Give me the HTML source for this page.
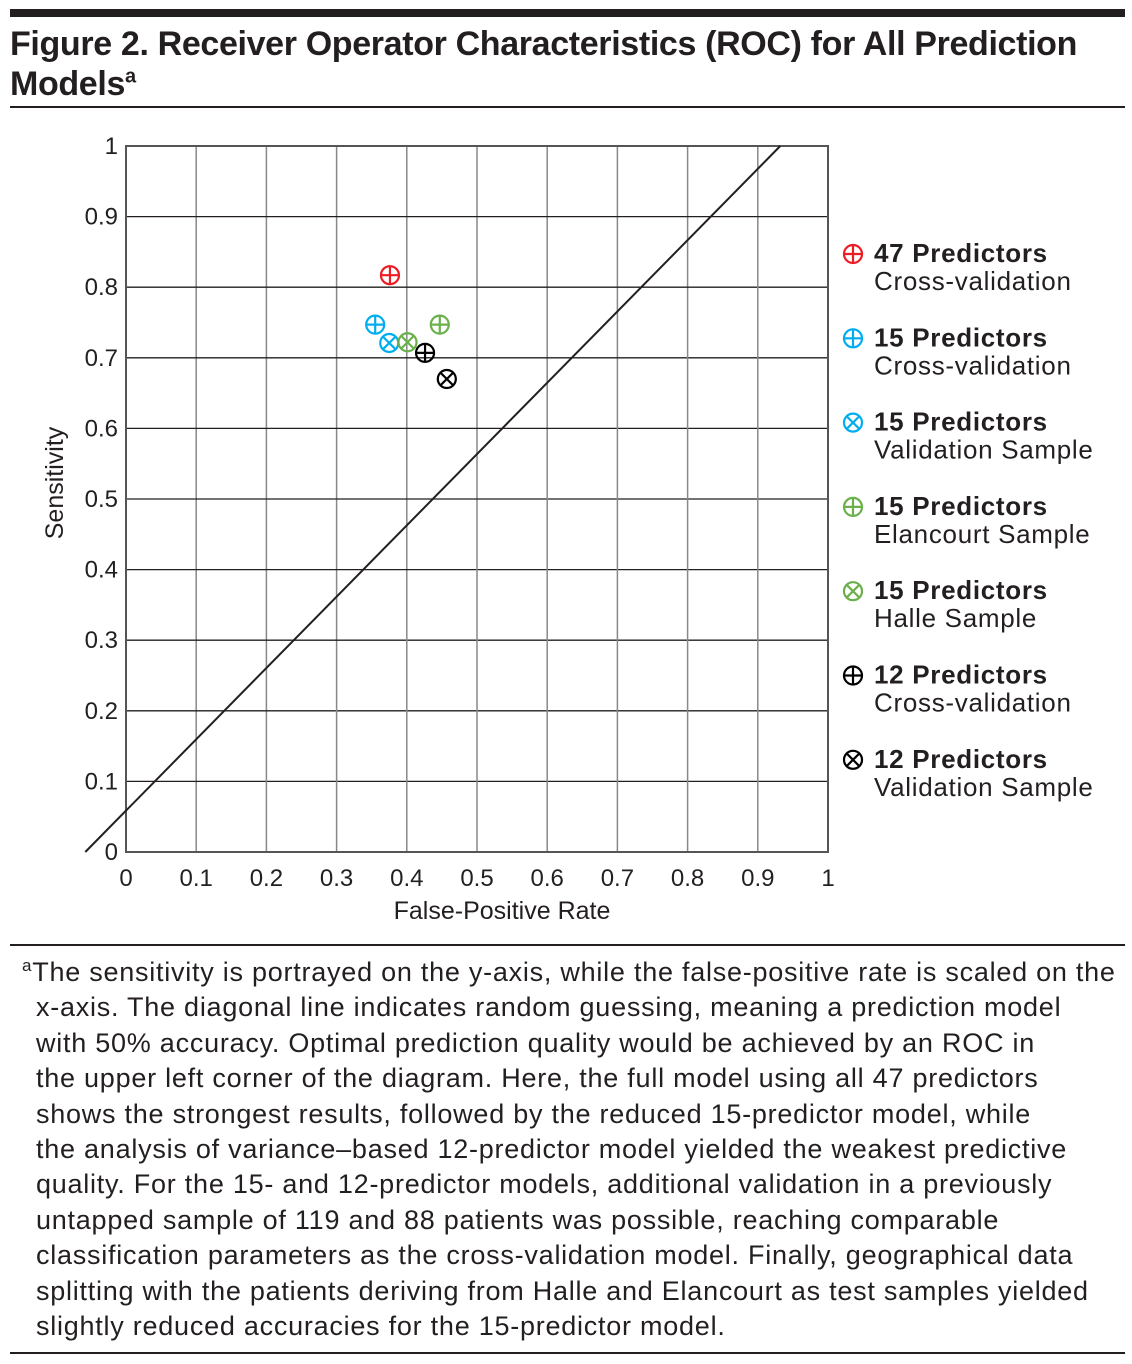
<!DOCTYPE html>
<html><head><meta charset="utf-8"><style>
body{margin:0;background:#fff;width:1132px;height:1364px;position:relative;font-family:"Liberation Sans",sans-serif;color:#231f20;overflow:hidden}
.abs{position:absolute}
#title{left:10px;top:24px;font-size:34px;font-weight:bold;line-height:40px;letter-spacing:-0.35px}
#foot{left:10px;top:948px;width:1125px;font-size:27px;line-height:35.4px;letter-spacing:0.75px;white-space:nowrap}
#foot p{margin:0;padding-left:26px;text-indent:-14px}
</style></head><body>
<div class="abs" style="left:10px;top:9px;width:1115px;height:8px;background:#231f20"></div>
<div id="title" class="abs">Figure 2. Receiver Operator Characteristics (ROC) for All Prediction<br>Models<sup style="font-size:20px;line-height:0">a</sup></div>
<div class="abs" style="left:10px;top:106px;width:1115px;height:2px;background:#231f20"></div>
<svg class="abs" style="left:0;top:0" width="1132" height="940">
<g id="grid"></g><g id="diag"></g><g id="marks"></g><g id="ticks"></g>
<text x="502" y="919" font-size="25" text-anchor="middle" fill="#231f20">False-Positive Rate</text>
<text transform="translate(63,483) rotate(-90)" font-size="25" text-anchor="middle" fill="#231f20">Sensitivity</text>
<g id="legend" letter-spacing="0.7"></g>
</svg>
<div class="abs" style="left:10px;top:944px;width:1115px;height:2px;background:#231f20"></div>
<div id="foot" class="abs"><p><sup style="font-size:17px">a</sup>The sensitivity is portrayed on the y-axis, while the false-positive rate is scaled on the<br>x-axis. The diagonal line indicates random guessing, meaning a prediction model<br>with 50% accuracy. Optimal prediction quality would be achieved by an ROC in<br>the upper left corner of the diagram. Here, the full model using all 47 predictors<br>shows the strongest results, followed by the reduced 15-predictor model, while<br>the analysis of variance–based 12-predictor model yielded the weakest predictive<br>quality. For the 15- and 12-predictor models, additional validation in a previously<br>untapped sample of 119 and 88 patients was possible, reaching comparable<br>classification parameters as the cross-validation model. Finally, geographical data<br>splitting with the patients deriving from Halle and Elancourt as test samples yielded<br>slightly reduced accuracies for the 15-predictor model.</p></div>
<div class="abs" style="left:10px;top:1352px;width:1115px;height:2px;background:#231f20"></div>
<script>
const tickLabels=["0","0.1","0.2","0.3","0.4","0.5","0.6","0.7","0.8","0.9","1"];
const tickValues=[0,0.1,0.2,0.3,0.4,0.5,0.6,0.7,0.8,0.9,1];
const seriesNames=["47 Predictors|Cross-validation","15 Predictors|Cross-validation","15 Predictors|Validation Sample","15 Predictors|Elancourt Sample","15 Predictors|Halle Sample","12 Predictors|Cross-validation","12 Predictors|Validation Sample"];
const fprValues=[0.376,0.355,0.375,0.447,0.401,0.426,0.457];
const sensValues=[0.817,0.747,0.721,0.747,0.722,0.707,0.670];
const markerTypes=["plus","plus","x","plus","x","plus","x"];
const markerColors=["#ed1c24","#00aeef","#00aeef","#6ab04c","#6ab04c","#000","#000"];
const diagX=[-0.058,0.932];
const diagY=[0,1];
const NS="http://www.w3.org/2000/svg";
const X=v=>126+v*702, Y=v=>852-v*706;
function mk(t,a,p){const e=document.createElementNS(NS,t);for(const k in a)e.setAttribute(k,a[k]);p.appendChild(e);return e;}
const g=document.getElementById('grid');
tickValues.forEach((v,i)=>{
 const vl=mk('line',{x1:X(v),x2:X(v),y1:Y(0),y2:Y(1),stroke:'#888','stroke-width':1.5},g);
 
 
 const hl=mk('line',{x1:X(0),x2:X(1),y1:Y(v),y2:Y(v),stroke:'#231f20','stroke-width':1.3},g);
 
 
 const tx=mk('text',{x:X(v),y:886,'font-size':24,'text-anchor':'middle',fill:'#231f20'},document.getElementById('ticks'));
 tx.textContent=tickLabels[i];
 
 
 const ty=mk('text',{x:118,y:Y(v)+8,'font-size':24,'text-anchor':'end',fill:'#231f20'},document.getElementById('ticks'));
 ty.textContent=tickLabels[i];
 
 
});
mk('rect',{x:X(0),y:Y(1),width:702,height:706,fill:'none',stroke:'#555','stroke-width':2},g);
const d=mk('line',{x1:X(diagX[0]),y1:Y(diagY[0]),x2:X(diagX[1]),y2:Y(diagY[1]),stroke:'#231f20','stroke-width':2},document.getElementById('diag'));


function marker(cx,cy,type,col,parent){
 const gg=mk('g',{},parent);
 const r=9;
 mk('circle',{cx,cy,r,fill:'none',stroke:col,'stroke-width':2.2},gg);
 if(type==='plus'){mk('line',{x1:cx-r,x2:cx+r,y1:cy,y2:cy,stroke:col,'stroke-width':2.2},gg);mk('line',{x1:cx,x2:cx,y1:cy-r,y2:cy+r,stroke:col,'stroke-width':2.2},gg);}
 else{const q=r*0.707;mk('line',{x1:cx-q,x2:cx+q,y1:cy-q,y2:cy+q,stroke:col,'stroke-width':2.2},gg);mk('line',{x1:cx-q,x2:cx+q,y1:cy+q,y2:cy-q,stroke:col,'stroke-width':2.2},gg);}
 return gg;
}
const m=document.getElementById('marks'), lg=document.getElementById('legend');
fprValues.forEach((v,i)=>{
 const p=marker(X(v),Y(sensValues[i]),markerTypes[i],markerColors[i],m);
 
 
 const ly=254+i*84.3;
 const lm=marker(853,ly,markerTypes[i],markerColors[i],lg);
 
 
 const parts=seriesNames[i].split('|');
 const t1=mk('text',{x:874,y:ly+8,'font-size':26,'font-weight':'bold',fill:'#231f20'},lg);
 t1.textContent=parts[0];
 
 
 const t2=mk('text',{x:874,y:ly+36,'font-size':26,fill:'#231f20'},lg);
 t2.textContent=parts[1];
 
 
});
</script>
</body></html>
